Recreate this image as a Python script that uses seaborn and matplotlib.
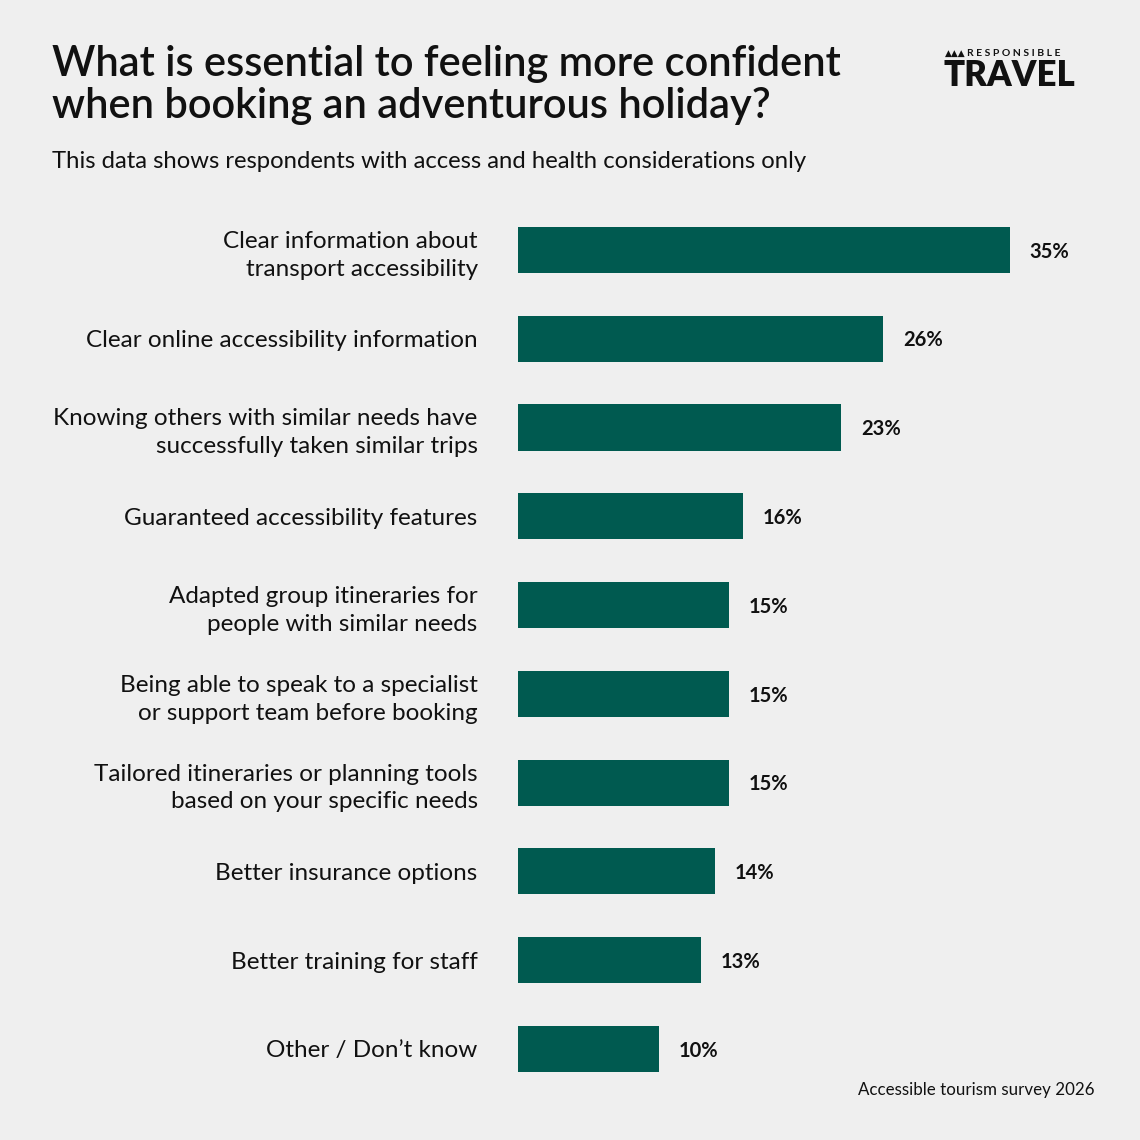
import matplotlib
import matplotlib.pyplot as plt
import seaborn as sns
import pandas as pd

matplotlib.use('Agg')

# Data
categories = [
    "Clear information about\ntransport accessibility",
    "Clear online accessibility information",
    "Knowing others with similar needs have\nsuccessfully taken similar trips",
    "Guaranteed accessibility features",
    "Adapted group itineraries for\npeople with similar needs",
    "Being able to speak to a specialist\nor support team before booking",
    "Tailored itineraries or planning tools\nbased on your specific needs",
    "Better insurance options",
    "Better training for staff",
    "Other / Don\u2019t know",
]
values = [35, 26, 23, 16, 15, 15, 15, 14, 13, 10]

title = "What is essential to feeling more confident\nwhen booking an adventurous holiday?"
subtitle = "This data shows respondents with access and health considerations only"
source = "Accessible tourism survey 2026"

BG = "#EFEFEF"
BAR = "#005A50"
INK = "#111111"
FONT = "Lato"

sns.set_theme(style="white")
plt.rcParams['font.family'] = [FONT, 'DejaVu Sans']

df = pd.DataFrame({"category": categories, "value": values})

fig = plt.figure(figsize=(11.4, 11.4), dpi=100, facecolor=BG)
ax = fig.add_axes([0.4544, 0.0409, 0.493, 0.7788])
ax.set_facecolor(BG)

sns.barplot(data=df, x="value", y="category", color=BAR, width=0.52,
            saturation=1, linewidth=0, ax=ax)

ax.set_xlim(0, 40)
ax.set_ylim(9.5, -0.5)
ax.set_xlabel("")
ax.set_ylabel("")
ax.set_xticks([])
for s in ax.spines.values():
    s.set_visible(False)
ax.tick_params(axis='y', length=0, pad=29, labelsize=17.5, labelcolor=INK)
for lbl in ax.get_yticklabels():
    lbl.set_horizontalalignment('right')
    lbl.set_multialignment('right')
    lbl.set_linespacing(1.4)

# value labels
for i, v in enumerate(values):
    ax.text(v + 1.4, i + 0.02, f"{v}%", va='center', ha='left', fontsize=14.5,
            fontweight='bold', color=INK)

# title, subtitle, source
fig.text(52 / 1140, 1 - 45 / 1140, title, ha='left', va='top', fontsize=30,
         fontweight='semibold', color=INK, linespacing=1.12)
fig.text(52 / 1140, 1 - 162 / 1140, subtitle, ha='left', va='center',
         fontsize=17.2, color=INK)
fig.text(1095 / 1140, 1 - 1090 / 1140, source, ha='right', va='center',
         fontsize=12.2, color=INK)

# logo
fig.text(945 / 1140, 1 - 53 / 1140, "\u25B2\u25B2\u25B2", ha='left', va='center',
         fontsize=6.5, color=INK, family=['DejaVu Sans'])
fig.text(967 / 1140, 1 - 53 / 1140, "R E S P O N S I B L E", ha='left', va='center',
         fontsize=7.5, fontweight='bold', color=INK)
fig.text(944 / 1140, 1 - 76 / 1140, "TRAVEL", ha='left', va='center',
         fontsize=25, fontweight='heavy', color=INK)

fig.savefig("out.png", dpi=100, facecolor=BG)
